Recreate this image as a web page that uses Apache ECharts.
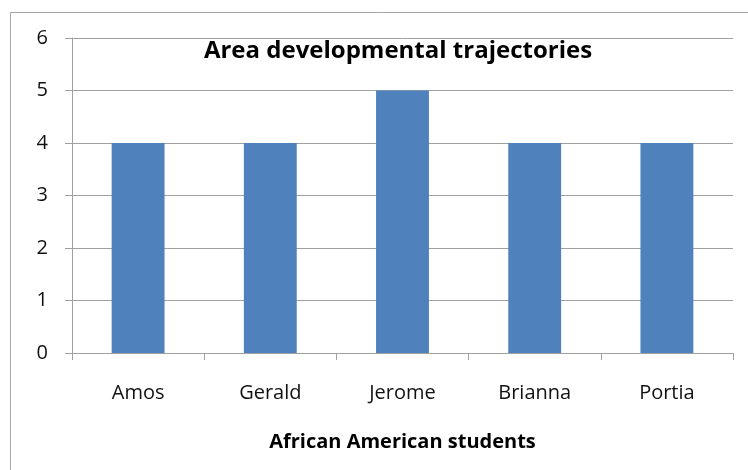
<!DOCTYPE html>
<html><head><meta charset="utf-8">
<script src="https://cdn.jsdelivr.net/npm/echarts@6/dist/echarts.min.js"></script>
<style>html,body{margin:0;padding:0;background:#fff}#c{width:748px;height:470px}</style>
</head><body><div id="c"></div>
<script>
var categories = ['Amos', 'Gerald', 'Jerome', 'Brianna', 'Portia'];
var values = [4, 4, 5, 4, 4];
var yTicks = [0, 1, 2, 3, 4, 5, 6];
var titleText = 'Area developmental trajectories';
var xAxisTitle = 'African American students';

var chart = echarts.init(document.getElementById('c'));
var font = '"Open Sans", Lato, sans-serif';
chart.setOption({
  animation: false,
  backgroundColor: '#fff',
  graphic: [{
    type: 'rect', shape: {x: 10.5, y: 12.5, width: 800, height: 600},
    style: {fill: 'none', stroke: '#a6a6a6', lineWidth: 1}, silent: true
  }],
  title: {
    text: titleText, left: 393, top: 34, textAlign: 'center',
    textStyle: {fontFamily: font, fontWeight: 'bold', fontSize: 24, color: '#000'}
  },
  grid: {left: 72, top: 38, right: 15, bottom: 117, containLabel: false},
  xAxis: {
    type: 'category', data: categories,
    name: xAxisTitle, nameLocation: 'middle', nameGap: 79,
    nameTextStyle: {fontFamily: font, fontWeight: 'bold', fontSize: 20, color: '#000'},
    axisLine: {lineStyle: {color: '#a0a0a0', width: 1}},
    axisTick: {show: true, length: 7, alignWithLabel: false, lineStyle: {color: '#a0a0a0'}},
    axisLabel: {fontFamily: font, fontSize: 20, color: '#111', margin: 30}
  },
  yAxis: {
    type: 'value', min: yTicks[0], max: yTicks[yTicks.length - 1], interval: 1,
    axisLine: {show: true, lineStyle: {color: '#a0a0a0', width: 1}},
    axisTick: {show: true, length: 7, lineStyle: {color: '#a0a0a0'}},
    splitLine: {show: true, lineStyle: {color: '#a0a0a0', width: 1}},
    axisLabel: {fontFamily: font, fontSize: 20, color: '#111', margin: 24}
  },
  series: [{
    type: 'bar', data: values, barWidth: '40%',
    itemStyle: {color: '#4f81bd'}
  }]
});
</script></body></html>
